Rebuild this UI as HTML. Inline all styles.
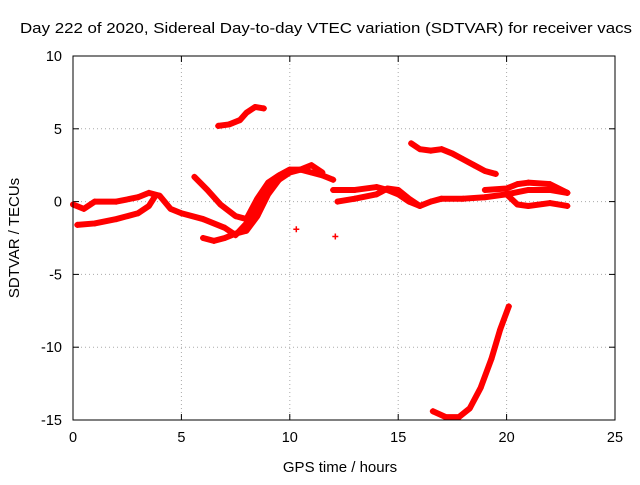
<!DOCTYPE html>
<html><head><meta charset="utf-8"><style>
body{margin:0;background:#fff}
svg text{font-family:"Liberation Sans",sans-serif;fill:#000}
</style></head><body>
<svg id="c" width="640" height="480" xmlns="http://www.w3.org/2000/svg">
<rect width="640" height="480" fill="#fff"/>
<text x="20" y="33" font-size="15" textLength="612" lengthAdjust="spacingAndGlyphs">Day 222 of 2020, Sidereal Day-to-day VTEC variation (SDTVAR) for receiver vacs</text>
<text x="340" y="472" font-size="15" text-anchor="middle">GPS time / hours</text>
<text transform="translate(19,238) rotate(-90)" font-size="15" text-anchor="middle">SDTVAR / TECUs</text>
<g id="grid"></g><g id="ticks"></g><g id="marks"></g>
<rect x="73" y="56" width="542" height="364" fill="none" stroke="#000"/>
</svg>
<script>
const xTicks=[0,5,10,15,20,25];
const yTicks=[10,5,0,-5,-10,-15];
const track1=[[6.7,5.2],[7.2,5.3],[7.7,5.6],[8.0,6.1],[8.4,6.5],[8.8,6.4]];
const track2=[[15.6,4.0],[16.0,3.6],[16.5,3.5],[17.0,3.6],[17.5,3.3],[18.0,2.9],[18.5,2.5],[19.0,2.1],[19.5,1.9]];
const track3=[[16.6,-14.4],[17.2,-14.8],[17.8,-14.8],[18.3,-14.2],[18.8,-12.8],[19.3,-10.8],[19.7,-8.8],[20.1,-7.2]];
const track4=[[0.2,-1.6],[1,-1.5],[2,-1.2],[3,-0.8],[3.5,-0.3],[3.8,0.4]];
const track5=[[0,-0.2],[0.5,-0.5],[1,0],[2,0],[3,0.3],[3.5,0.6],[4,0.4],[4.5,-0.5],[5,-0.8],[6,-1.2],[7,-1.8],[7.5,-2.3],[8,-1.5],[8.5,-0.5],[9,0.8],[9.5,1.5],[10,2.0],[10.5,2.2],[11,2.0],[11.5,1.8],[12,1.5]];
const track6=[[5.6,1.7],[6.2,0.8],[6.8,-0.2],[7.5,-1.0],[8,-1.2],[8.5,0.2],[9,1.3],[9.5,1.8],[10,2.2],[10.5,2.2],[11,2.5],[11.5,2.0]];
const track7=[[6,-2.5],[6.5,-2.7],[7,-2.5],[7.5,-2.2],[8,-2.0],[8.5,-1.0],[9,0.5],[9.5,1.5]];
const track8=[[12,0.8],[13,0.8],[14,1.0],[14.5,0.8],[15,0.5],[15.5,0.0],[16,-0.3],[16.5,0],[17,0.2],[18,0.2],[19,0.3],[20,0.5],[21,0.8],[22,0.8],[22.8,0.6]];
const track9=[[12.2,0],[13,0.2],[14,0.5],[14.5,0.9],[15,0.8],[15.5,0.2],[16,-0.3]];
const track10=[[19,0.8],[20,0.9],[20.5,1.2],[21,1.3],[22,1.2],[22.8,0.6]];
const track11=[[20,0.5],[20.5,-0.2],[21,-0.3],[22,-0.1],[22.8,-0.3]];
const isolated=[[10.3,-1.9],[12.1,-2.4]];
const tracks=[track1,track2,track3,track4,track5,track6,track7,track8,track9,track10,track11];
const NS="http://www.w3.org/2000/svg";
const X=v=>73+(v-0)/25*542, Y=v=>56+(10-v)/25*364;
function mk(t,a,p){const e=document.createElementNS(NS,t);for(const k in a)e.setAttribute(k,a[k]);p.appendChild(e);return e;}
const g=document.getElementById('grid'),tk=document.getElementById('ticks'),m=document.getElementById('marks');
xTicks.forEach(v=>{const x=X(v);
 if(v>0&&v<25){const l=mk('line',{x1:x,x2:x,y1:56,y2:420,stroke:'#aaa','stroke-dasharray':'1,3'},g);}
 mk('line',{x1:x,x2:x,y1:420,y2:414,stroke:'#000'},tk);mk('line',{x1:x,x2:x,y1:56,y2:62,stroke:'#000'},tk);
 const t=mk('text',{x:x,y:442,'font-size':14.5,'text-anchor':'middle'},tk);t.textContent=v;
 });
yTicks.forEach(v=>{const y=Y(v);
 if(v>-15&&v<10){const l=mk('line',{x1:73,x2:615,y1:y,y2:y,stroke:'#aaa','stroke-dasharray':'1,3'},g);}
 mk('line',{x1:73,x2:79,y1:y,y2:y,stroke:'#000'},tk);mk('line',{x1:615,x2:609,y1:y,y2:y,stroke:'#000'},tk);
 const t=mk('text',{x:62,y:y+5,'font-size':14.5,'text-anchor':'end'},tk);t.textContent=v;
 });
function plus(x,y){mk('path',{d:`M${x-3},${y}h6M${x},${y-3}v6`,stroke:'#f00','stroke-width':1.5},m);}
tracks.forEach(tr=>{
 const pl=mk('polyline',{points:tr.map(p=>X(p[0])+','+Y(p[1])).join(' '),fill:'none',stroke:'#f00','stroke-width':6,'stroke-linejoin':'round','stroke-linecap':'round'},m);
 
 
 tr.forEach(p=>plus(X(p[0]),Y(p[1])));
});
isolated.forEach(p=>plus(X(p[0]),Y(p[1])));
</script>
</body></html>
